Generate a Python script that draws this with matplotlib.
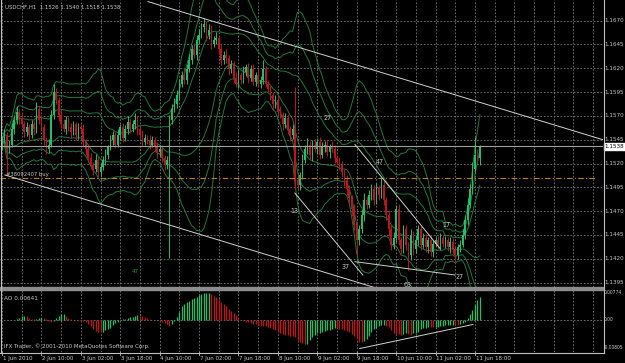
import matplotlib
matplotlib.use("Agg")
import matplotlib.pyplot as plt
from matplotlib import font_manager
from matplotlib.patches import Rectangle
import numpy as np
import pandas as pd

# hourly USDCHF closes, in pips above 1.1400
close_pips = [145, 150, 135, 140, 156, 166, 174, 168, 161, 153,
              158, 150, 161, 156, 177, 166, 158, 145, 135, 140,
              171, 195, 187, 171, 161, 156, 166, 158, 153, 161,
              150, 158, 156, 143, 135, 126, 119, 114, 124, 111,
              116, 124, 129, 137, 145, 150, 140, 150, 158, 147,
              156, 164, 156, 161, 166, 156, 150, 143, 147, 145,
              140, 145, 137, 132, 135, 126, 119, 124, 166, 177,
              182, 192, 203, 213, 208, 219, 229, 240, 234, 250,
              255, 263, 266, 255, 260, 245, 250, 252, 240, 229,
              234, 231, 219, 224, 210, 203, 213, 208, 216, 221,
              210, 219, 206, 213, 203, 208, 219, 203, 198, 192,
              182, 187, 174, 171, 161, 168, 156, 150, 156, 103,
              98, 108, 124, 135, 140, 129, 140, 135, 143, 129,
              137, 140, 132, 138, 135, 126, 122, 119, 111, 103,
              93, 84, 72, 56, 40, 51, 66, 82, 77, 87,
              93, 82, 95, 87, 98, 82, 66, 51, 35, 42,
              72, 40, 30, 51, 35, 24, 45, 30, 40, 51,
              35, 42, 32, 40, 27, 36, 40, 34, 42, 36,
              40, 32, 38, 30, 24, 32, 35, 45, 61, 77,
              93, 114, 129, 126, 138]
first_open = 140

# wick length above / below the body, pips
up_wick = [4, 6, 3, 5, 7, 4, 6, 3, 5, 4,
           6, 3, 5, 4, 8, 3, 5, 4, 3, 6,
           5, 8, 4, 3, 5, 6, 4, 3, 5, 4,
           3, 5, 4, 6, 3, 4, 5, 3, 6, 4,
           5, 4, 6, 3, 5, 4, 3, 6, 4, 5,
           4, 6, 3, 5, 7, 4, 3, 5, 4, 3,
           5, 4, 3, 6, 4, 5, 3, 4, 5, 6,
           7, 5, 6, 4, 8, 5, 6, 4, 7, 5,
           6, 5, 7, 4, 6, 5, 4, 6, 3, 5,
           4, 6, 3, 5, 4, 6, 5, 3, 6, 4,
           5, 4, 6, 3, 5, 4, 10, 3, 5, 4,
           3, 5, 4, 6, 3, 5, 4, 3, 5, 44,
           4, 3, 6, 5, 7, 4, 5, 6, 4, 5,
           6, 4, 5, 3, 6, 4, 3, 5, 4, 3,
           5, 4, 3, 6, 4, 5, 6, 7, 4, 5,
           6, 4, 5, 3, 7, 4, 3, 5, 4, 6,
           5, 6, 3, 5, 4, 3, 6, 4, 5, 4,
           3, 5, 4, 3, 5, 4, 3, 4, 5, 3,
           4, 3, 5, 4, 3, 4, 5, 6, 5, 7,
           6, 8, 19, 6, 2]
dn_wick = [5, 3, 24, 4, 3, 5, 4, 6, 3, 5,
           4, 5, 3, 6, 4, 5, 3, 6, 5, 4,
           3, 4, 5, 6, 4, 3, 5, 4, 6, 3,
           5, 4, 3, 5, 6, 4, 5, 6, 3, 5,
           4, 3, 5, 4, 3, 6, 4, 3, 5, 4,
           3, 5, 4, 3, 5, 6, 4, 5, 3, 4,
           5, 3, 4, 6, 5, 4, 6, 5, 103, 4,
           3, 4, 5, 3, 4, 5, 3, 4, 3, 5,
           4, 3, 5, 6, 4, 5, 3, 4, 5, 6,
           4, 5, 6, 4, 5, 3, 4, 5, 3, 4,
           5, 3, 4, 5, 3, 4, 5, 3, 4, 5,
           6, 4, 5, 3, 6, 4, 5, 6, 4, 10,
           5, 6, 4, 3, 5, 4, 6, 3, 5, 4,
           3, 5, 4, 6, 3, 5, 4, 6, 5, 7,
           6, 5, 7, 6, 16, 5, 4, 6, 5, 4,
           5, 6, 4, 5, 3, 6, 5, 7, 6, 5,
           4, 6, 5, 4, 6, 16, 5, 6, 4, 5,
           6, 4, 5, 6, 4, 5, 3, 4, 5, 4,
           5, 4, 6, 5, 8, 4, 5, 3, 4, 5,
           4, 5, 4, 3, 8]

time_labels = ["1 Jun 2010", "2 Jun 10:00", "3 Jun 02:00", "3 Jun 18:00",
               "4 Jun 10:00", "7 Jun 02:00", "7 Jun 18:00", "8 Jun 10:00",
               "9 Jun 02:00", "9 Jun 18:00", "10 Jun 10:00", "11 Jun 02:00",
               "11 Jun 18:00"]
price_ticks = [1.1395, 1.1420, 1.1445, 1.1470, 1.1495, 1.1520, 1.1545,
               1.1570, 1.1595, 1.1620, 1.1645, 1.1670]
ao_ticks = [0.00774, 0.0, -0.00805]
ao_tick_text = ["0.00774", "0.00", "-0.00805"]

header = "USDCHF,H1  1.1526 1.1540 1.1518 1.1538"
bid = 1.1538
order_price = 1.1505
order_text = "#38092407 buy"

# trend lines: (bar, price) -> (bar, price)
trend_lines = [((59.3, 1.1690), (244.0, 1.1545)),
               ((1.2, 1.1508), (160.0, 1.1383)),
               ((118.9, 1.1489), (146.5, 1.1403)),
               ((143.3, 1.1417), (183.9, 1.1403)),
               ((143.3, 1.1540), (177.8, 1.1431))]
wave_labels = [("13", 118.9, 1.1470), ("27", 132.3, 1.1568),
               ("47", 153.4, 1.1522), ("37", 139.6, 1.1411),
               ("17", 180.6, 1.1456), ("27", 185.9, 1.1401),
               ("63", 164.8, 1.1393)]
ao_trend = ((145.3, -0.0082), (191.2, -0.0013))

GREEN = "#1ec06c"
RED = "#c0141c"
BAND = "#1e7a3c"
GRID = "#7a7a7a"
TXT = "#c8c8c8"

# a narrow face keeps the axis numbers inside the picture
fonts = font_manager.fontManager.ttflist
if any(f.name == "DejaVu Sans" and f.stretch == "condensed" for f in fonts):
    FAM, STRETCH = "DejaVu Sans", "condensed"
else:
    FAM, STRETCH = "Liberation Sans", "normal"

W, H = 625, 363
fig = plt.figure(figsize=(W / 100, H / 100), dpi=100, facecolor="black")

def fbox(left, top, right, bottom):
    return [left / W, 1 - bottom / H, (right - left) / W, (bottom - top) / H]

ax = fig.add_axes(fbox(0, 0, 603, 287))
ax2 = fig.add_axes(fbox(0, 290, 603, 352))

n = len(close_pips)
x = np.arange(n)
c = 1.14 + np.array(close_pips) / 1e4
o = 1.14 + np.r_[first_open, close_pips[:-1]] / 1e4
hi = np.maximum(o, c) + np.array(up_wick) / 1e4
lo = np.minimum(o, c) - np.array(dn_wick) / 1e4
bull = c >= o
cols = np.where(bull, GREEN, RED)

xmin, xmax = -0.8, 244.0

def tf(size, color=TXT):
    return dict(family=FAM, stretch=STRETCH, fontsize=size, color=color)

for a in (ax, ax2):
    a.set_facecolor("black")
    a.set_xlim(xmin, xmax)
    for s in a.spines.values():
        s.set_visible(False)
    a.set_xticks([])
    a.set_yticks([])
    for g in np.arange(0, xmax, 8):
        a.axvline(g, color=GRID, lw=0.6, dashes=(2, 2), zorder=0)

# ---- main price panel
ax.set_ylim(1.13904, 1.16917)
for p in price_ticks:
    ax.axhline(p, color=GRID, lw=0.6, dashes=(2, 2), zorder=0)
    ax.text(1.003, p, "%.4f" % p, transform=ax.get_yaxis_transform(),
            va="center", ha="left", clip_on=False, **tf(4.5))

# bollinger bands 1, 2, 3 deviations
s = pd.Series(c)
mid = s.rolling(20, min_periods=1).mean()
sd = s.rolling(20, min_periods=1).std(ddof=0)
for k in (1, 2, 3):
    ax.plot(x, mid + k * sd, color=BAND, lw=0.7, zorder=2)
    ax.plot(x, mid - k * sd, color=BAND, lw=0.7, zorder=2)

ax.vlines(x, lo, hi, colors=cols, lw=0.7, zorder=3)
ax.bar(x, c - o, bottom=o, width=0.65, color=cols, linewidth=0, zorder=3)

ax.axhline(bid, color="#a0a0a0", lw=0.8, zorder=4)
ax.text(1.003, bid, "1.1538", transform=ax.get_yaxis_transform(),
        va="center", ha="left", clip_on=False, **tf(4.5, "black"),
        bbox=dict(boxstyle="square,pad=0.12", fc="white", ec="white"))
ax.plot([xmin, 241], [order_price, order_price], color="#c87c14", lw=0.8,
        dashes=(5, 2, 1, 2), zorder=4)
ax.text(1.5, order_price + 0.0001, order_text, va="bottom", ha="left",
        zorder=5, **tf(4.2))

for (x0, y0), (x1, y1) in trend_lines:
    ax.plot([x0, x1], [y0, y1], color="#d0d0d0", lw=0.7, zorder=5)
for t, tx, ty in wave_labels:
    ax.text(tx, ty, t, ha="center", va="center", zorder=6, **tf(5))
ax.text(54, 1.1407, "47", ha="center", va="center", zorder=6,
        **tf(4.5, "#10a030"))

fig.text(5 / W, 1 - 7 / H, header, ha="left", va="center", **tf(4.3))

# ---- awesome oscillator
med = pd.Series((hi + lo) / 2)
ao = (med.rolling(5, min_periods=1).mean()
      - med.rolling(34, min_periods=1).mean()).values
rising = np.r_[True, np.diff(ao) > 0]
ax2.set_ylim(-0.00920, 0.00860)
ax2.axhline(0, color=GRID, lw=0.6, dashes=(2, 2), zorder=0)
ax2.vlines(x, 0, ao, colors=np.where(rising, GREEN, RED), lw=0.9, zorder=3)
ax2.plot([ao_trend[0][0], ao_trend[1][0]], [ao_trend[0][1], ao_trend[1][1]],
         color="#d0d0d0", lw=0.7, zorder=5)
for v, t in zip(ao_ticks, ao_tick_text):
    ax2.text(1.002, v, t, transform=ax2.get_yaxis_transform(),
             va="center", ha="left", clip_on=False, **tf(3.6))
ax2.text(0.006, 0.86, "AO 0.00641", transform=ax2.transAxes, ha="left",
         va="center", **tf(4.6))
ax2.text(0.006, 0.1, "IFX Trader, \u00a9 2001-2010 MetaQuotes Software Corp.",
         transform=ax2.transAxes, ha="left", va="center", **tf(4.4))

# time axis labels every 16 bars
for k, lab in enumerate(time_labels):
    ax2.text(16 * k + 0.3, -0.07, lab, transform=ax2.get_xaxis_transform(),
             ha="left", va="top", clip_on=False, **tf(4.4))
    ax2.plot([16 * k, 16 * k], [0, -0.05], transform=ax2.get_xaxis_transform(),
             color="#c0c0c0", lw=0.6, clip_on=False)

# frame lines and panel separator
fig.add_artist(Rectangle((0, 1 - 290 / H), 603 / W, 3 / H, color="#8c8c8c",
                         transform=fig.transFigure))
fig.add_artist(plt.Line2D([603.5 / W] * 2, [1 - 352.5 / H, 1], color="#c0c0c0",
                          lw=0.8, transform=fig.transFigure))
fig.add_artist(plt.Line2D([0, 603.5 / W], [1 - 352.5 / H] * 2, color="#c0c0c0",
                          lw=0.8, transform=fig.transFigure))
fig.add_artist(plt.Line2D([0.8 / W] * 2, [1 - 352.5 / H, 1], color="#c0c0c0",
                          lw=0.8, transform=fig.transFigure))

fig.savefig("out.png", dpi=100, facecolor="black")
